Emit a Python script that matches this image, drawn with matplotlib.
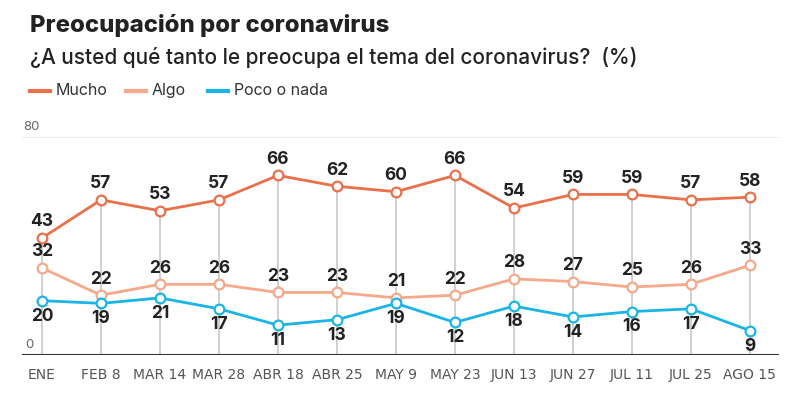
import matplotlib.pyplot as plt
import numpy as np

fechas = ["ENE", "FEB 8", "MAR 14", "MAR 28", "ABR 18", "ABR 25", "MAY 9",
          "MAY 23", "JUN 13", "JUN 27", "JUL 11", "JUL 25", "AGO 15"]
mucho = [43, 57, 53, 57, 66, 62, 60, 66, 54, 59, 59, 57, 58]
algo = [32, 22, 26, 26, 23, 23, 21, 22, 28, 27, 25, 26, 33]
poco = [20, 19, 21, 17, 11, 13, 19, 12, 18, 14, 16, 17, 9]

c_mucho = "#e8704a"
c_algo = "#f5a98a"
c_poco = "#1ab4e6"

plt.rcParams['font.family'] = ['Inter', 'DejaVu Sans']

fig = plt.figure(figsize=(8, 3.99), dpi=100)
ax = fig.add_axes([0.0275, 0.110, 0.946, 0.546])
x = np.arange(len(fechas))

# vertical guide lines from 0 to the top point
for xi, m in zip(x, mucho):
    ax.plot([xi, xi], [0, m], color="#c8c8c8", lw=1.2, zorder=1)

for serie, col, pos in [(mucho, c_mucho, "up"), (algo, c_algo, "up"), (poco, c_poco, "down")]:
    ax.plot(x, serie, color=col, lw=2, marker="o", ms=7, mfc="white",
            mec=col, mew=1.6, zorder=3, clip_on=False)
    for xi, v in zip(x, serie):
        if pos == "up":
            ax.annotate(str(v), (xi, v), xytext=(0, 5.5), textcoords="offset points",
                        ha="center", va="bottom", fontsize=12.5, fontweight="bold",
                        color="#222222")
        else:
            ax.annotate(str(v), (xi, v), xytext=(0, -5), textcoords="offset points",
                        ha="center", va="top", fontsize=12.5, fontweight="bold",
                        color="#222222")

ax.set_xlim(-0.339, 12.49)
ax.set_ylim(0, 80)
ax.axhline(80, color="#e6e6e6", lw=1.2, zorder=0)
ax.axhline(0, color="#333333", lw=2.2, zorder=4)
for s in ax.spines.values():
    s.set_visible(False)
ax.set_yticks([])
ax.set_xticks(x)
ax.set_xticklabels(fechas, family="Liberation Sans Narrow", fontsize=10, color="#555555")
ax.tick_params(axis="x", length=0, pad=9)

ax.text(-0.32, 81.5, "80", fontsize=9.5, color="#666666", ha="left", va="bottom")
ax.text(-0.28, 1.5, "0", fontsize=9.5, color="#666666", ha="left", va="bottom")

fig.text(0.0375, 0.937, "Preocupación por coronavirus", fontsize=17.2,
         fontweight="heavy", color="#222222", ha="left", va="center")
fig.text(0.0375, 0.855, "¿A usted qué tanto le preocupa el tema del coronavirus?  (%)",
         fontsize=15, fontweight="medium", color="#222222", ha="left", va="center")

# legend
leg_y = 0.772
for lx, col, lab in [(0.0375, c_mucho, "Mucho"), (0.1575, c_algo, "Algo"), (0.26, c_poco, "Poco o nada")]:
    fig.add_artist(plt.Line2D([lx, lx + 0.025], [leg_y, leg_y], color=col, lw=3))
    fig.text(lx + 0.032, leg_y, lab, fontsize=11.5, color="#333333", ha="left", va="center")

fig.savefig("out.png", dpi=100)
